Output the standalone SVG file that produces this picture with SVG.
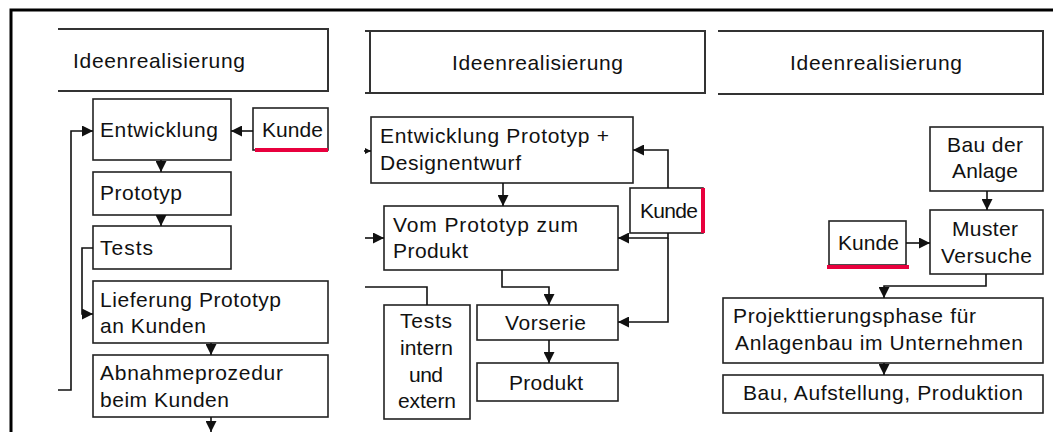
<svg xmlns="http://www.w3.org/2000/svg" width="1053" height="432" viewBox="0 0 1053 432">
<style>
.bg{fill:#fff}
.frame{fill:none;stroke:#000;stroke-width:3}
.box{fill:#fff;stroke:#222;stroke-width:1.6}
.tb{fill:none;stroke:#333;stroke-width:2}
.red{fill:none;stroke:#e8003d;stroke-width:4}
.con{fill:none;stroke:#111;stroke-width:1.6}
.arr{fill:none;stroke:#111;stroke-width:1.6;marker-end:url(#ah)}
text{font-family:"Liberation Sans",Arial,sans-serif;font-size:21px;fill:#111}
</style>
<defs>
<marker id="ah" viewBox="0 0 10 10" refX="10" refY="5" markerWidth="11" markerHeight="11" markerUnits="userSpaceOnUse" orient="auto">
<path d="M0,0 L10,5 L0,10 z" fill="#111"/>
</marker>
<marker id="ahs" viewBox="0 0 10 10" refX="10" refY="5" markerWidth="6" markerHeight="6" markerUnits="userSpaceOnUse" orient="auto">
<path d="M0,0 L10,5 L0,10 z" fill="#111"/>
</marker>
</defs>
<rect class="bg" x="0" y="0" width="1053" height="432"/>
<g id="frame"><path class="frame" d="M11,432 V10 H1053"/></g>

<!-- Panel 1 -->
<g id="title1"><path class="tb" d="M58,29 H328 V91 H58"/><text x="73" y="68" textLength="172" lengthAdjust="spacing">Ideenrealisierung</text></g>
<g id="entwicklung1"><rect class="box" x="93" y="99" width="138" height="61"/><text x="100" y="137" textLength="118" lengthAdjust="spacing">Entwicklung</text></g>
<g id="kunde1"><rect class="box" x="253" y="108" width="75" height="42"/><path class="red" d="M255,150 H328"/><text x="262" y="137" textLength="61" lengthAdjust="spacing">Kunde</text></g>
<g id="prototyp1"><rect class="box" x="93" y="172" width="138" height="43"/><text x="100" y="200" textLength="82" lengthAdjust="spacing">Prototyp</text></g>
<g id="tests1"><rect class="box" x="93" y="226" width="138" height="43"/><text x="100" y="255" textLength="53" lengthAdjust="spacing">Tests</text></g>
<g id="lieferung"><rect class="box" x="93" y="281" width="235" height="62"/><text x="100" y="307" textLength="181" lengthAdjust="spacing">Lieferung Prototyp</text><text x="100" y="333" textLength="106" lengthAdjust="spacing">an Kunden</text></g>
<g id="abnahme"><rect class="box" x="93" y="355" width="235" height="62"/><text x="100" y="380" textLength="183" lengthAdjust="spacing">Abnahmeprozedur</text><text x="100" y="407" textLength="129" lengthAdjust="spacing">beim Kunden</text></g>

<!-- Panel 2 -->
<g id="title2"><path class="tb" d="M365,31 H705 V93 H365 M370,31 V93"/><text x="452" y="70" textLength="171" lengthAdjust="spacing">Ideenrealisierung</text></g>
<g id="entwicklung2"><rect class="box" x="371" y="117" width="262" height="66"/><text x="380" y="143" textLength="229" lengthAdjust="spacing">Entwicklung Prototyp +</text><text x="380" y="170" textLength="141" lengthAdjust="spacing">Designentwurf</text></g>
<g id="kunde2"><rect class="box" x="630" y="188" width="73" height="45"/><path class="red" d="M703,188 V233"/><text x="640" y="218" textLength="58" lengthAdjust="spacing">Kunde</text></g>
<g id="vomprototyp"><rect class="box" x="384" y="206" width="234" height="64"/><text x="393" y="232" textLength="185" lengthAdjust="spacing">Vom Prototyp zum</text><text x="393" y="258" textLength="75" lengthAdjust="spacing">Produkt</text></g>
<g id="vorserie"><rect class="box" x="477" y="305" width="141" height="35"/><text x="505" y="330" textLength="81" lengthAdjust="spacing">Vorserie</text></g>
<g id="produkt"><rect class="box" x="477" y="363" width="141" height="38"/><text x="509" y="390" textLength="74" lengthAdjust="spacing">Produkt</text></g>
<g id="tests2"><rect class="box" x="384" y="305" width="86" height="114"/><text x="400" y="328" textLength="52" lengthAdjust="spacing">Tests</text><text x="400" y="355" textLength="53" lengthAdjust="spacing">intern</text><text x="409" y="382" textLength="34" lengthAdjust="spacing">und</text><text x="398" y="408" textLength="58" lengthAdjust="spacing">extern</text></g>

<!-- Panel 3 -->
<g id="title3"><path class="tb" d="M718,31 H1043 V94 H718"/><text x="790" y="70" textLength="172" lengthAdjust="spacing">Ideenrealisierung</text></g>
<g id="bauanlage"><rect class="box" x="930" y="127" width="113" height="64"/><text x="947" y="152" textLength="76" lengthAdjust="spacing">Bau der</text><text x="952" y="178" textLength="66" lengthAdjust="spacing">Anlage</text></g>
<g id="muster"><rect class="box" x="930" y="210" width="113" height="64"/><text x="952" y="236" textLength="66" lengthAdjust="spacing">Muster</text><text x="941" y="263" textLength="91" lengthAdjust="spacing">Versuche</text></g>
<g id="kunde3"><rect class="box" x="829" y="221" width="77" height="44"/><path class="red" d="M827,267 H909"/><text x="838" y="250" textLength="61" lengthAdjust="spacing">Kunde</text></g>
<g id="projekt"><rect class="box" x="723" y="298" width="320" height="65"/><text x="733" y="323" textLength="243" lengthAdjust="spacing">Projekttierungsphase für</text><text x="735" y="350" textLength="288" lengthAdjust="spacing">Anlagenbau im Unternehmen</text></g>
<g id="bauaufstellung"><rect class="box" x="723" y="375" width="320" height="38"/><text x="743" y="400" textLength="280" lengthAdjust="spacing">Bau, Aufstellung, Produktion</text></g>

<g id="connectors">
<path class="arr" d="M253,131 H231"/>
<path class="arr" d="M58,390 H71 V131 H93"/>
<path class="arr" d="M161,160 V172"/>
<path class="arr" d="M161,215 V226"/>
<path class="arr" d="M93,248 H82 V314 H93"/>
<path class="arr" d="M211,343 V355"/>
<path class="arr" d="M211,417 V432"/>
<path class="con" style="marker-end:url(#ahs)" d="M364,151 H371"/>
<path class="arr" d="M503,183 V206"/>
<path class="arr" d="M668,188 V150 H633"/>
<path class="arr" d="M668,233 V238 H618"/>
<path class="arr" d="M668,238 V322 H618"/>
<path class="arr" d="M502,270 V287 H549 V305"/>
<path class="arr" d="M549,340 V363"/>
<path class="arr" d="M365,238 H384"/>
<path class="con" d="M427,305 V287 H365"/>
<path class="arr" d="M987,191 V210"/>
<path class="arr" d="M906,243 H930"/>
<path class="arr" d="M986,274 V286 H884 V298"/>
<path class="arr" d="M884,363 V375"/>
</g>
</svg>
